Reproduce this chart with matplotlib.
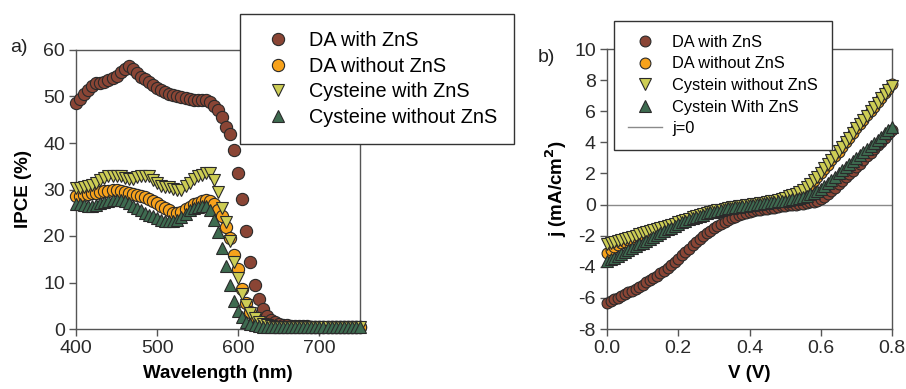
"""IPCE spectra and j-V curves for DA / cysteine capped quantum dots."""

import matplotlib

matplotlib.use("Agg")
import matplotlib.pyplot as plt
import numpy as np

plt.rcParams["font.family"] = ["Liberation Sans", "DejaVu Sans"]
plt.rcParams["axes.unicode_minus"] = False

# ---- panel a: IPCE (%) vs wavelength, sampled every 5 nm from 400 to 750 nm
wavelength = np.arange(400, 755, 5)

ipce_da_zns = [
    48.5, 49.5, 50.5, 51.5, 52.2, 52.8, 53.0, 53.2, 53.5, 54.0,
    54.5, 55.3, 56.0, 56.5, 56.0, 55.0, 54.3, 53.8, 53.2, 52.5,
    51.8, 51.3, 51.0, 50.6, 50.3, 50.0, 49.8, 49.6, 49.4, 49.3,
    49.2, 49.2, 49.2, 48.8, 48.0, 47.0, 45.5, 43.5, 42.0, 38.5,
    33.5, 28.0, 21.0, 14.5, 9.5, 6.5, 4.2, 2.7, 1.9, 1.4,
    1.1, 0.9, 0.8, 0.7, 0.7, 0.6, 0.6, 0.6, 0.5, 0.5,
    0.5, 0.5, 0.5, 0.5, 0.5, 0.5, 0.5, 0.5, 0.5, 0.5, 0.5,
]
ipce_da_nozns = [
    28.5, 28.6, 28.8, 29.0, 29.2, 29.3, 29.5, 29.6, 29.7, 29.8,
    29.8, 29.7, 29.5, 29.3, 29.0, 28.8, 28.6, 28.3, 28.0, 27.6,
    27.0, 26.5, 26.0, 25.5, 25.0, 24.9, 25.2, 25.8, 26.3, 26.8,
    27.2, 27.5, 27.7, 27.6, 26.8, 25.5, 24.3, 22.0, 19.5, 16.0,
    12.8, 8.5, 5.5, 3.6, 2.3, 1.5, 1.0, 0.8, 0.6, 0.5,
    0.5, 0.5, 0.5, 0.5, 0.5, 0.5, 0.5, 0.5, 0.5, 0.5,
    0.5, 0.5, 0.5, 0.5, 0.5, 0.5, 0.5, 0.5, 0.5, 0.5, 0.5,
]
ipce_cys_zns = [
    30.3, 30.3, 30.5, 30.8, 31.0, 31.5, 32.0, 32.5, 32.8, 33.0,
    33.0, 32.8, 32.5, 32.3, 32.3, 32.6, 33.0, 33.0, 32.8, 32.0,
    31.3, 30.8, 30.5, 30.5, 30.2, 29.8, 30.0, 30.8, 31.5, 32.2,
    32.8, 33.2, 33.5, 33.5, 32.0, 29.5, 26.0, 23.0, 19.0, 14.5,
    11.0, 7.5, 5.2, 3.4, 2.3, 1.5, 1.1, 0.8, 0.6, 0.5,
    0.4, 0.4, 0.4, 0.4, 0.4, 0.4, 0.4, 0.4, 0.4, 0.4,
    0.4, 0.4, 0.4, 0.4, 0.4, 0.4, 0.4, 0.4, 0.4, 0.4, 0.4,
]
ipce_cys_nozns = [
    26.8, 26.8, 26.7, 26.5, 26.5, 26.6, 27.0, 27.3, 27.5, 27.8,
    27.8, 27.7, 27.5, 27.0, 26.5, 26.0, 25.5, 25.0, 24.5, 24.2,
    23.8, 23.5, 23.3, 23.2, 23.2, 23.5, 24.0, 24.8, 25.5, 26.0,
    26.3, 26.5, 26.5, 25.5, 23.5, 20.8, 17.5, 13.5, 9.5, 6.0,
    3.8, 2.5, 1.6, 1.1, 0.8, 0.6, 0.5, 0.4, 0.4, 0.4,
    0.4, 0.4, 0.4, 0.4, 0.4, 0.4, 0.4, 0.4, 0.4, 0.4,
    0.4, 0.4, 0.4, 0.4, 0.4, 0.4, 0.4, 0.4, 0.4, 0.4, 0.4,
]
labels_a = ["DA with ZnS", "DA without ZnS", "Cysteine with ZnS", "Cysteine without ZnS"]

# ---- panel b: current density (mA/cm2) vs bias, sampled every 0.01 V
voltage = np.linspace(0.0, 0.8, 81)

j_da_zns = [
    -6.30, -6.20, -6.09, -5.98, -5.87, -5.76, -5.64, -5.53, -5.41, -5.28,
    -5.15, -5.01, -4.87, -4.72, -4.57, -4.41, -4.25, -4.07, -3.88, -3.68,
    -3.47, -3.26, -3.05, -2.84, -2.63, -2.43, -2.23, -2.04, -1.86, -1.69,
    -1.53, -1.38, -1.24, -1.11, -0.99, -0.88, -0.78, -0.69, -0.61, -0.54,
    -0.48, -0.43, -0.38, -0.34, -0.30, -0.26, -0.22, -0.19, -0.15, -0.12,
    -0.09, -0.06, -0.03, 0.00, 0.03, 0.06, 0.10, 0.14, 0.19, 0.26,
    0.35, 0.50, 0.68, 0.88, 1.09, 1.30, 1.52, 1.74, 1.96, 2.18,
    2.40, 2.63, 2.86, 3.09, 3.32, 3.55, 3.80, 4.05, 4.30, 4.55, 4.80,
]
j_da_nozns = [
    -3.10, -2.92, -2.76, -2.62, -2.50, -2.39, -2.29, -2.20, -2.11, -2.02,
    -1.93, -1.84, -1.76, -1.68, -1.60, -1.53, -1.46, -1.39, -1.32, -1.25,
    -1.18, -1.10, -1.02, -0.94, -0.86, -0.78, -0.70, -0.63, -0.56, -0.50,
    -0.44, -0.39, -0.34, -0.29, -0.24, -0.20, -0.16, -0.12, -0.09, -0.06,
    -0.03, 0.00, 0.03, 0.06, 0.10, 0.14, 0.18, 0.23, 0.29, 0.35,
    0.42, 0.49, 0.57, 0.66, 0.77, 0.90, 1.06, 1.26, 1.50, 1.76,
    2.02, 2.29, 2.57, 2.85, 3.13, 3.41, 3.70, 4.00, 4.30, 4.60,
    4.90, 5.18, 5.46, 5.74, 6.02, 6.30, 6.58, 6.86, 7.14, 7.42, 7.72,
]
j_cys_nozns = [
    -2.55, -2.48, -2.41, -2.34, -2.27, -2.20, -2.13, -2.06, -1.99, -1.92,
    -1.85, -1.78, -1.71, -1.64, -1.57, -1.50, -1.43, -1.36, -1.29, -1.22,
    -1.15, -1.08, -1.00, -0.91, -0.83, -0.75, -0.68, -0.61, -0.54, -0.48,
    -0.42, -0.37, -0.32, -0.27, -0.22, -0.18, -0.14, -0.10, -0.07, -0.04,
    -0.01, 0.02, 0.05, 0.08, 0.12, 0.16, 0.20, 0.25, 0.31, 0.38,
    0.45, 0.52, 0.60, 0.69, 0.80, 0.93, 1.10, 1.30, 1.55, 1.80,
    2.05, 2.32, 2.60, 2.87, 3.15, 3.42, 3.70, 4.00, 4.30, 4.60,
    4.90, 5.17, 5.45, 5.72, 6.00, 6.27, 6.55, 6.82, 7.10, 7.37, 7.65,
]
j_cys_zns = [
    -3.65, -3.53, -3.41, -3.29, -3.17, -3.05, -2.92, -2.80, -2.68, -2.56,
    -2.44, -2.32, -2.20, -2.08, -1.96, -1.84, -1.72, -1.60, -1.48, -1.36,
    -1.25, -1.15, -1.05, -0.95, -0.86, -0.78, -0.71, -0.64, -0.57, -0.51,
    -0.45, -0.40, -0.35, -0.30, -0.25, -0.21, -0.17, -0.13, -0.10, -0.07,
    -0.04, -0.01, 0.02, 0.05, 0.08, 0.11, 0.14, 0.17, 0.20, 0.23,
    0.26, 0.30, 0.34, 0.38, 0.43, 0.49, 0.56, 0.65, 0.75, 0.87,
    1.00, 1.19, 1.39, 1.59, 1.79, 2.00, 2.20, 2.40, 2.60, 2.80,
    3.00, 3.19, 3.38, 3.57, 3.76, 3.95, 4.16, 4.37, 4.58, 4.79, 5.00,
]
labels_b = ["DA with ZnS", "DA without ZnS", "Cystein without ZnS", "Cystein With ZnS"]

BROWN = "#8a4535"
ORANGE = "#f7a21b"
YELLOW = "#cdcd55"
GREEN = "#3e6b50"
EDGE = "#2a2a2a"
FRAME = "#555555"

W, H = 906, 389


def style_axes(ax):
    for side in ax.spines.values():
        side.set_color(FRAME)
        side.set_linewidth(1.0)
    ax.tick_params(direction="out", length=5, width=1, color=FRAME,
                   labelsize=14, labelcolor="#2a2a2a", top=False, right=False, pad=3)


def scatter(ax, x, y, marker, color, size, label):
    ax.plot(x, y, linestyle="none", marker=marker, markersize=size,
            markerfacecolor=color, markeredgecolor=EDGE, markeredgewidth=0.8,
            clip_on=False, label=label, zorder=3)


fig = plt.figure(figsize=(W / 100, H / 100), dpi=100)

# ---- panel a
ax_a = fig.add_axes([76 / W, 60 / H, 284 / W, 279 / H])
style_axes(ax_a)
scatter(ax_a, wavelength, ipce_da_zns, "o", BROWN, 8.8, labels_a[0])
scatter(ax_a, wavelength, ipce_da_nozns, "o", ORANGE, 8.8, labels_a[1])
scatter(ax_a, wavelength, ipce_cys_zns, "v", YELLOW, 9.2, labels_a[2])
scatter(ax_a, wavelength, ipce_cys_nozns, "^", GREEN, 9.2, labels_a[3])
ax_a.set_xlim(400, 750)
ax_a.set_ylim(0, 60)
ax_a.set_xticks([400, 500, 600, 700])
ax_a.set_yticks(range(0, 70, 10))
ax_a.set_xlabel("Wavelength (nm)", fontsize=13.5, fontweight="bold", labelpad=6)
ax_a.set_ylabel("IPCE (%)", fontsize=13.5, fontweight="bold", labelpad=8)
leg_a = ax_a.legend(loc="upper left", bbox_to_anchor=(240 / W, 1 - 14 / H),
                    bbox_transform=fig.transFigure, fontsize=14.3, frameon=True,
                    fancybox=False, edgecolor="#333333", framealpha=1,
                    borderpad=0.85, labelspacing=0.34, handlelength=2.1,
                    handletextpad=0.5, borderaxespad=0, numpoints=1)
leg_a.get_frame().set_linewidth(1.0)
leg_a.set_zorder(10)

# ---- panel b
ax_b = fig.add_axes([607 / W, 60 / H, 285 / W, 280 / H])
style_axes(ax_b)
ax_b.axhline(0, color="#8a8a8a", linewidth=1.0, zorder=1)
scatter(ax_b, voltage, j_da_zns, "o", BROWN, 7.8, labels_b[0])
scatter(ax_b, voltage, j_da_nozns, "o", ORANGE, 7.8, labels_b[1])
scatter(ax_b, voltage, j_cys_nozns, "v", YELLOW, 8.2, labels_b[2])
scatter(ax_b, voltage, j_cys_zns, "^", GREEN, 8.2, labels_b[3])
ax_b.plot([], [], color="#8a8a8a", linewidth=1.0, label="j=0")
ax_b.set_xlim(0, 0.8)
ax_b.set_ylim(-8, 10)
ax_b.set_xticks([0.0, 0.2, 0.4, 0.6, 0.8])
ax_b.set_xticklabels(["0.0", "0.2", "0.4", "0.6", "0.8"])
ax_b.set_yticks(range(-8, 12, 2))
ax_b.set_xlabel("V (V)", fontsize=13.5, fontweight="bold", labelpad=6)
ax_b.set_ylabel("j (mA/cm$^\\mathbf{2}$)", fontsize=13.5, fontweight="bold", labelpad=4)
leg_b = ax_b.legend(loc="upper left", bbox_to_anchor=(614 / W, 1 - 21 / H),
                    bbox_transform=fig.transFigure, fontsize=11.8, frameon=True,
                    fancybox=False, edgecolor="#333333", framealpha=1,
                    borderpad=0.85, labelspacing=0.4, handlelength=2.1,
                    handletextpad=0.6, borderaxespad=0, numpoints=1)
leg_b.get_frame().set_linewidth(1.0)
leg_b.set_zorder(10)

fig.text(10 / W, 1 - 48 / H, "a)", fontsize=14, va="center", ha="left", color="#222222")
fig.text(538 / W, 1 - 57 / H, "b)", fontsize=14, va="center", ha="left", color="#222222")

fig.savefig("out.png", dpi=100)
